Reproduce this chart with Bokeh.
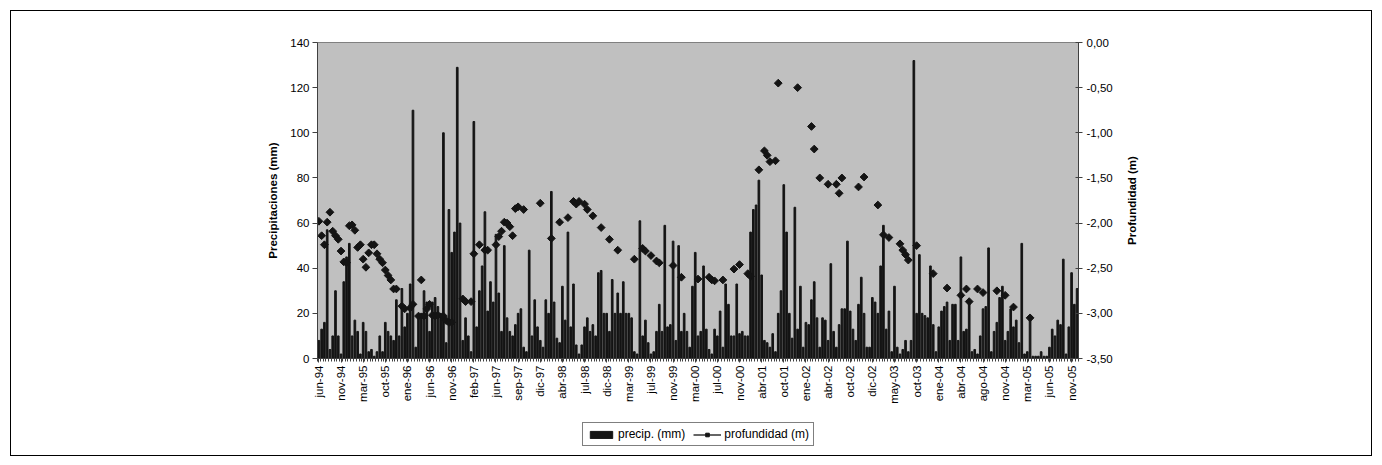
import numpy as np
from bokeh.plotting import figure
from bokeh.layouts import gridplot
from bokeh.models import (ColumnDataSource, Range1d, LinearAxis, FixedTicker,
                          Legend, LegendItem, CustomJSTickFormatter)
from bokeh.embed import file_html
from bokeh.resources import INLINE

N_ = None
# one row per x-axis label interval (8 observations each)
precip = [
    8, 13, 16, 57, 4, 10, 30, 10,
    2, 34, 45, 51, 10, 17, 12, 2,
    16, 12, 3, 4, 1, 3, 10, 3,
    16, 12, 10, 8, 26, 10, 31, 14,
    20, 33, 110, 5, 18, 20, 30, 25,
    12, 25, 27, 23, 20, 100, 7, 66,
    47, 56, 129, 60, 8, 18, 10, 3,
    105, 14, 30, 41, 65, 21, 34, 25,
    55, 29, 12, 50, 18, 12, 10, 15,
    20, 22, 5, 3, 48, 10, 26, 14,
    8, 5, 26, 20, 74, 25, 9, 7,
    32, 17, 56, 14, 33, 6, 2, 6,
    14, 18, 12, 15, 10, 38, 39, 20,
    20, 12, 35, 20, 29, 20, 34, 20,
    20, 18, 3, 2, 61, 10, 17, 7,
    2, 3, 12, 24, 12, 59, 14, 15,
    52, 8, 50, 12, 20, 12, 5, 32,
    47, 10, 12, 41, 13, 4, 2, 13,
    10, 21, 5, 33, 24, 10, 10, 33,
    11, 12, 10, 10, 56, 66, 68, 79,
    37, 8, 7, 5, 11, 3, 20, 30,
    77, 56, 20, 9, 67, 13, 32, 5,
    16, 15, 26, 34, 18, 5, 18, 17,
    8, 42, 12, 5, 15, 22, 22, 52,
    21, 13, 8, 24, 36, 20, 5, 5,
    27, 25, 20, 41, 59, 13, 21, 3,
    32, 5, 2, 4, 8, 3, 8, 132,
    20, 46, 20, 19, 18, 41, 15, 3,
    14, 21, 23, 25, 8, 24, 24, 8,
    45, 12, 13, 25, 3, 4, 2, 10,
    22, 23, 49, 3, 12, 16, 27, 32,
    8, 12, 22, 14, 17, 7, 51, 2,
    3, 18, 1, 1, 1, 3, 1, 1,
    5, 13, 10, 17, 15, 44, 2, 14,
    38, 24, 31,
]

profundidad = [
    -1.98, -2.14, -2.24, -1.99, -1.88, -2.09, -2.14, -2.18,
    -2.31, -2.43, -2.44, -2.03, -2.02, -2.08, -2.27, -2.24,
    -2.40, -2.49, -2.33, -2.24, -2.24, -2.34, -2.40, -2.44,
    -2.52, -2.58, -2.63, -2.73, -2.73, N_, -2.92, -2.95,
    N_, -2.94, -2.90, N_, -3.03, -2.63, -3.03, -2.95,
    -2.90, -3.02, -3.03, -3.02, N_, -3.03, -3.08, -3.10,
    -3.10, N_, N_, N_, -2.84, -2.87, N_, -2.87,
    -2.34, N_, -2.24, N_, -2.30, -2.30, N_, N_,
    -2.24, -2.15, -2.09, -1.99, -2.00, -2.04, -2.14, -1.84,
    -1.82, N_, -1.85, N_, N_, N_, N_, N_,
    -1.78, N_, N_, N_, -2.17, N_, N_, -1.99,
    N_, N_, -1.94, N_, -1.76, -1.79, -1.76, N_,
    -1.79, -1.85, N_, -1.92, N_, N_, -2.05, N_,
    N_, -2.18, N_, N_, -2.30, N_, N_, N_,
    N_, N_, -2.40, N_, N_, -2.28, -2.31, N_,
    -2.36, N_, -2.42, -2.44, N_, N_, N_, N_,
    -2.47, N_, N_, -2.60, N_, N_, N_, N_,
    N_, -2.62, N_, N_, N_, -2.60, -2.63, -2.64,
    N_, N_, -2.63, N_, N_, N_, -2.51, N_,
    -2.46, N_, N_, -2.56, -2.59, N_, N_, -1.41,
    N_, -1.20, -1.25, -1.32, N_, -1.31, -0.45, N_,
    N_, N_, N_, N_, N_, -0.50, N_, N_,
    N_, N_, -0.93, -1.18, N_, -1.50, N_, N_,
    -1.57, N_, N_, -1.57, -1.67, -1.50, N_, N_,
    N_, N_, N_, -1.60, N_, -1.49, N_, N_,
    N_, N_, -1.80, N_, -2.13, N_, -2.16, N_,
    N_, N_, -2.23, -2.30, -2.35, -2.41, N_, N_,
    -2.25, N_, N_, N_, N_, N_, -2.56, N_,
    N_, N_, N_, -2.72, N_, N_, N_, N_,
    -2.80, N_, -2.73, -2.87, N_, N_, -2.73, N_,
    -2.77, N_, N_, N_, N_, -2.75, N_, N_,
    -2.80, N_, N_, -2.93, N_, N_, N_, N_,
    N_, -3.05, N_, N_, N_, N_, N_, N_,
    N_, N_, N_, N_, N_, N_, N_, N_,
    N_, N_, N_,
]

labels = ["jun-94", "nov-94", "mar-95", "oct-95", "ene-96", "jun-96", "nov-96",
          "feb-97", "jun-97", "sep-97", "dic-97", "abr-98", "jul-98", "dic-98",
          "mar-99", "jul-99", "nov-99", "mar-00", "jul-00", "nov-00", "abr-01",
          "oct-01", "ene-02", "abr-02", "oct-02", "dic-02", "may-03", "oct-03",
          "ene-04", "abr-04", "ago-04", "nov-04", "mar-05", "jun-05", "nov-05"]
label_step = 8

left_ticks = [0, 20, 40, 60, 80, 100, 120, 140]
right_ticks = [0.0, -0.5, -1.0, -1.5, -2.0, -2.5, -3.0, -3.5]

FONT = "Liberation Sans"
FS = "11.5px"
INK = "#141414"
AX = "#404040"
WP = 1110   # main chart width
WR = 250    # strip holding the right axis title

n = len(precip)
xs = list(range(n))

p = figure(width=WP, height=400, output_backend="svg", toolbar_location=None,
           x_range=Range1d(-0.5, n - 0.5), y_range=Range1d(0, 140),
           min_border_left=306, min_border_right=43, min_border_top=31,
           min_border_bottom=53, background_fill_color="#c0c0c0",
           border_fill_color="white")
p.xgrid.visible = False
p.ygrid.visible = False
p.outline_line_color = "#808080"
p.extra_y_ranges = {"depth": Range1d(-3.5, 0)}

p.vbar(x=xs, top=precip, width=0.6, color=INK)

dx = [i for i, d in enumerate(profundidad) if d is not None]
dy = [d for d in profundidad if d is not None]
dsrc = ColumnDataSource(dict(x=dx, y=dy))
p.scatter("x", "y", source=dsrc, marker="square", angle=np.pi / 4,
          size=5.5, color=INK, y_range_name="depth")

# x axis
xa = p.xaxis[0]
xa.ticker = FixedTicker(ticks=[label_step * j for j in range(len(labels))],
                        minor_ticks=[i - 0.5 for i in range(n + 1)])
xa.major_label_overrides = {label_step * j: lab for j, lab in enumerate(labels)}
xa.major_label_orientation = np.pi / 2
xa.major_label_text_font = FONT
xa.major_label_text_font_size = FS
xa.major_label_text_color = "#000000"
xa.major_tick_out = 4
xa.major_tick_in = 0
xa.minor_tick_out = 3
xa.minor_tick_in = 0
xa.axis_line_color = AX
xa.major_tick_line_color = AX
xa.minor_tick_line_color = AX
xa.major_label_standoff = 3

# left axis
ya = p.yaxis[0]
ya.ticker = FixedTicker(ticks=left_ticks)
ya.axis_label = "Precipitaciones (mm)"
ya.axis_label_text_font = FONT
ya.axis_label_text_font_style = "bold"
ya.axis_label_text_font_size = FS
ya.axis_label_text_color = "#000000"
ya.axis_label_standoff = 8
ya.major_label_text_font = FONT
ya.major_label_text_font_size = FS
ya.major_label_text_color = "#000000"
ya.major_tick_out = 5
ya.major_tick_in = 0
ya.minor_tick_line_color = None
ya.axis_line_color = AX
ya.major_tick_line_color = AX
ya.major_label_standoff = 3

# right axis (ticks only; its title sits in the strip to the right)
ra = LinearAxis(y_range_name="depth", ticker=FixedTicker(ticks=right_ticks),
                formatter=CustomJSTickFormatter(code="return tick.toFixed(2).replace('.', ',');"))
ra.major_label_text_font = FONT
ra.major_label_text_font_size = FS
ra.major_label_text_color = "#000000"
ra.major_tick_out = 4
ra.major_tick_in = 3
ra.minor_tick_line_color = None
ra.axis_line_color = AX
ra.major_tick_line_color = AX
ra.major_label_standoff = 4
p.add_layout(ra, "right")

# strip whose left-axis title reads bottom-to-top like the reference's right title
rl = figure(width=WR, height=400, output_backend="svg", toolbar_location=None,
            x_range=Range1d(0, 1), y_range=Range1d(-3.5, 0),
            min_border_left=16, min_border_right=0, min_border_top=31,
            min_border_bottom=53, background_fill_color="white",
            border_fill_color="white")
rl.outline_line_color = None
rl.xaxis.visible = False
rl.grid.visible = False
rla = rl.yaxis[0]
rla.ticker = FixedTicker(ticks=[])
rla.axis_line_color = None
rla.major_tick_line_color = None
rla.minor_tick_line_color = None
rla.major_tick_out = 0
rla.major_tick_in = 0
rla.major_label_standoff = 0
rla.axis_label = "Profundidad (m)"
rla.axis_label_text_font = FONT
rla.axis_label_text_font_style = "bold"
rla.axis_label_text_font_size = FS
rla.axis_label_text_color = "#000000"
rla.axis_label_standoff = 0

# legend strip below the chart (its frame is aligned with the chart frame)
lg = figure(width=WP, height=44, output_backend="svg", toolbar_location=None,
            x_range=Range1d(0, 1), y_range=Range1d(0, 1),
            min_border=0, border_fill_color="white", background_fill_color="white")
lg.outline_line_color = None
lg.axis.visible = False
lg.grid.visible = False
# hidden sample renderers, used only to draw the legend glyphs
r_bar = lg.vbar(x=[0.5], top=[1], width=0.1, color=INK, visible=False)
r_line = lg.line(x=[0.4, 0.6], y=[0.5, 0.5], color=INK, line_width=1.3, visible=False)
r_pts = lg.scatter(x=[0.5], y=[0.5], marker="square", angle=np.pi / 4, size=5.5,
                   color=INK, visible=False)
legend = Legend(items=[LegendItem(label="precip. (mm)", renderers=[r_bar]),
                       LegendItem(label="profundidad (m)", renderers=[r_line, r_pts])],
                orientation="horizontal", location=(265, 9))
legend.label_text_font = FONT
legend.label_text_font_size = "12px"
legend.label_text_color = "#000000"
legend.border_line_color = "#000000"
legend.border_line_width = 1
legend.background_fill_color = "white"
legend.background_fill_alpha = 1
legend.glyph_width = 28
legend.glyph_height = 9
legend.spacing = 8
legend.padding = 4
legend.margin = 0
legend.label_standoff = 3
legend.label_height = 12
lg.add_layout(legend)

page = gridplot([[p, rl], [lg, None]], toolbar_location=None)
page.margin = (10, 0, 0, 10)
page.styles = {"border": "1px solid #000000"}

open("out.html", "w").write(file_html(page, INLINE))
